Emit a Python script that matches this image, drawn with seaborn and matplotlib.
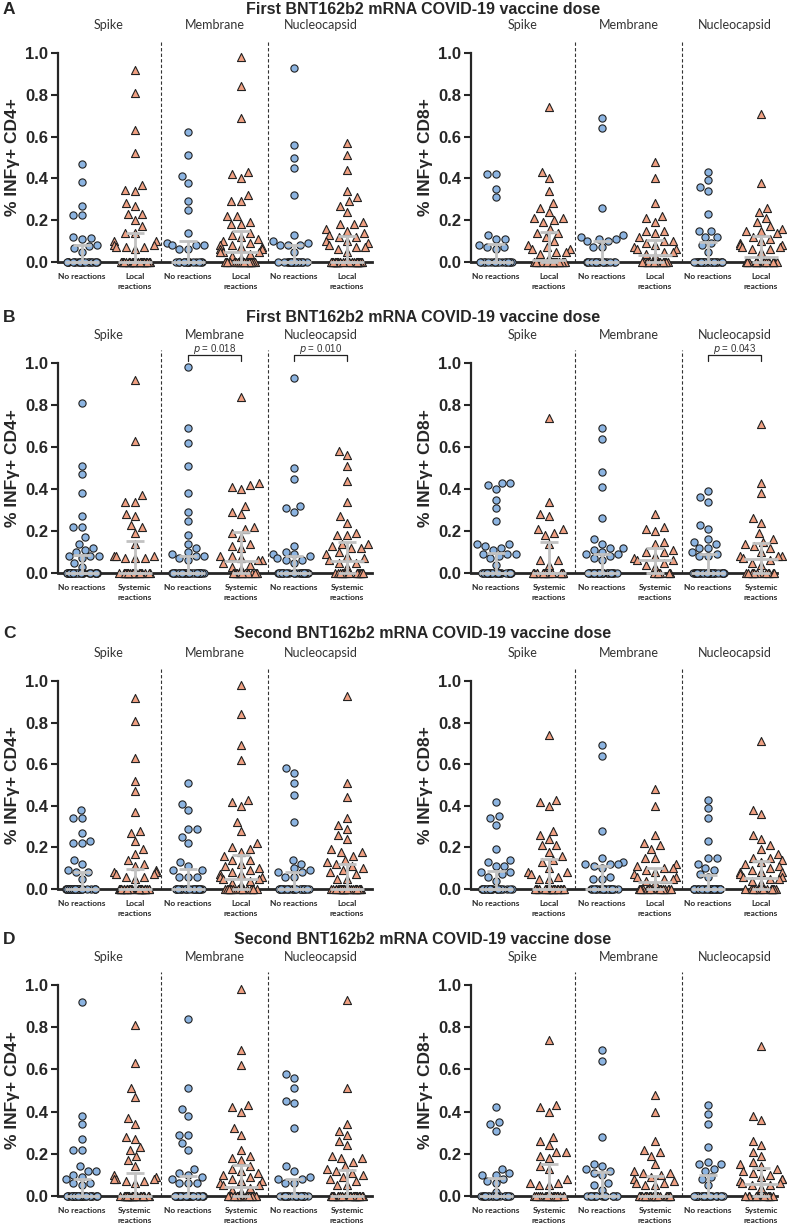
import numpy as np
import pandas as pd
import seaborn as sns
import matplotlib.pyplot as plt

W, H = 787, 1228

antigens = ["Spike", "Membrane", "Nucleocapsid"]
cats = ["Spike no", "Spike yes", "Membrane no", "Membrane yes", "Nucleocapsid no", "Nucleocapsid yes"]

# non-zero values read off each group (spike no/yes, membrane no/yes, nucleocapsid no/yes)
# the matching *_zeros list holds the number of donors sitting at 0.0
a_cd4 = [
    [0.47, 0.385, 0.27, 0.225, 0.225, 0.12, 0.115, 0.11, 0.08, 0.075, 0.065, 0.05],
    [0.92, 0.81, 0.63, 0.52, 0.37, 0.345, 0.34, 0.28, 0.27, 0.23, 0.23, 0.2, 0.17, 0.14, 0.14, 0.1, 0.1, 0.08, 0.08, 0.07, 0.07, 0.07, 0.06],
    [0.62, 0.51, 0.41, 0.38, 0.29, 0.25, 0.14, 0.09, 0.08, 0.08, 0.08, 0.06, 0.06],
    [0.98, 0.84, 0.69, 0.43, 0.42, 0.40, 0.32, 0.29, 0.29, 0.22, 0.22, 0.19, 0.18, 0.18, 0.14, 0.13, 0.12, 0.11, 0.1, 0.09,
     0.08, 0.08, 0.07, 0.07, 0.06, 0.06, 0.05, 0.05, 0.05, 0.04, 0.03, 0.02],
    [0.93, 0.56, 0.50, 0.45, 0.32, 0.13, 0.10, 0.09, 0.08, 0.08, 0.08, 0.05],
    [0.57, 0.51, 0.44, 0.34, 0.31, 0.29, 0.27, 0.24, 0.19, 0.18, 0.18, 0.16, 0.15, 0.14, 0.13, 0.12, 0.12, 0.1, 0.1, 0.09,
     0.08, 0.07, 0.07, 0.06, 0.05],
]
a_cd4_zeros = [21, 34, 15, 24, 20, 35]

a_cd8 = [
    [0.42, 0.42, 0.35, 0.31, 0.13, 0.11, 0.11, 0.08, 0.07, 0.07, 0.06],
    [0.74, 0.43, 0.40, 0.34, 0.28, 0.26, 0.24, 0.21, 0.21, 0.2, 0.19, 0.16, 0.14, 0.14, 0.12, 0.1, 0.08, 0.07, 0.06, 0.06,
     0.05, 0.05, 0.04, 0.02],
    [0.69, 0.64, 0.26, 0.13, 0.12, 0.11, 0.11, 0.1, 0.1, 0.07, 0.07],
    [0.48, 0.40, 0.28, 0.22, 0.21, 0.19, 0.15, 0.15, 0.14, 0.12, 0.1, 0.1, 0.09, 0.08, 0.07, 0.06, 0.06, 0.05, 0.05, 0.04, 0.03],
    [0.43, 0.39, 0.36, 0.34, 0.23, 0.15, 0.15, 0.12, 0.12, 0.09, 0.08, 0.05],
    [0.71, 0.38, 0.26, 0.24, 0.21, 0.19, 0.17, 0.16, 0.15, 0.15, 0.14, 0.12, 0.11, 0.1, 0.09, 0.08, 0.08, 0.07, 0.07, 0.06,
     0.06, 0.05],
]
a_cd8_zeros = [17, 24, 17, 19, 24, 22]

b_cd4 = [
    [0.81, 0.51, 0.47, 0.38, 0.27, 0.22, 0.22, 0.17, 0.14, 0.12, 0.11, 0.1, 0.08, 0.08, 0.08, 0.07, 0.05, 0.03],
    [0.92, 0.63, 0.37, 0.34, 0.34, 0.28, 0.27, 0.23, 0.22, 0.19, 0.14, 0.08, 0.08, 0.08, 0.07, 0.07, 0.07],
    [0.98, 0.69, 0.62, 0.51, 0.38, 0.29, 0.25, 0.18, 0.14, 0.12, 0.1, 0.09, 0.08, 0.08, 0.07, 0.06],
    [0.84, 0.43, 0.42, 0.41, 0.40, 0.32, 0.29, 0.28, 0.22, 0.21, 0.19, 0.17, 0.14, 0.13, 0.12, 0.08, 0.08, 0.07, 0.06, 0.06,
     0.05, 0.04, 0.03, 0.02],
    [0.93, 0.50, 0.45, 0.32, 0.31, 0.29, 0.13, 0.10, 0.09, 0.09, 0.08, 0.07, 0.06, 0.06, 0.05],
    [0.58, 0.56, 0.51, 0.44, 0.34, 0.27, 0.24, 0.19, 0.18, 0.18, 0.14, 0.14, 0.13, 0.12, 0.12, 0.1, 0.09, 0.08, 0.07, 0.06,
     0.05, 0.05, 0.03],
]
b_cd4_zeros = [30, 23, 32, 16, 25, 17]

b_cd8 = [
    [0.43, 0.43, 0.42, 0.40, 0.35, 0.31, 0.25, 0.14, 0.14, 0.13, 0.12, 0.11, 0.09, 0.09, 0.09, 0.08, 0.07, 0.04],
    [0.74, 0.34, 0.28, 0.27, 0.21, 0.21, 0.19, 0.18, 0.14, 0.06, 0.06, 0.04],
    [0.69, 0.64, 0.48, 0.41, 0.26, 0.16, 0.14, 0.12, 0.12, 0.11, 0.1, 0.09, 0.09, 0.08, 0.07, 0.06],
    [0.28, 0.22, 0.21, 0.2, 0.15, 0.14, 0.11, 0.1, 0.1, 0.08, 0.07, 0.06, 0.06, 0.05, 0.04, 0.03],
    [0.39, 0.36, 0.34, 0.23, 0.21, 0.16, 0.15, 0.14, 0.12, 0.12, 0.1, 0.09, 0.08, 0.08],
    [0.71, 0.43, 0.38, 0.26, 0.24, 0.19, 0.16, 0.15, 0.14, 0.13, 0.12, 0.1, 0.08, 0.08, 0.08, 0.07, 0.06, 0.05, 0.04],
]
b_cd8_zeros = [30, 20, 28, 8, 30, 13]

c_cd4 = [
    [0.38, 0.34, 0.34, 0.27, 0.23, 0.22, 0.22, 0.14, 0.12, 0.09, 0.08, 0.08, 0.05],
    [0.92, 0.81, 0.63, 0.52, 0.47, 0.37, 0.28, 0.27, 0.23, 0.19, 0.17, 0.14, 0.12, 0.11, 0.09, 0.08, 0.08, 0.07, 0.07, 0.06,
     0.06, 0.05],
    [0.51, 0.41, 0.38, 0.29, 0.29, 0.25, 0.22, 0.13, 0.11, 0.09, 0.09, 0.06, 0.06, 0.06],
    [0.98, 0.84, 0.69, 0.62, 0.43, 0.42, 0.40, 0.32, 0.28, 0.22, 0.2, 0.19, 0.18, 0.16, 0.14, 0.14, 0.12, 0.11, 0.1, 0.09,
     0.08, 0.07, 0.07, 0.06, 0.06, 0.05, 0.05, 0.04, 0.03, 0.02],
    [0.58, 0.56, 0.51, 0.45, 0.32, 0.14, 0.12, 0.1, 0.09, 0.08, 0.08, 0.06, 0.06],
    [0.93, 0.51, 0.44, 0.34, 0.31, 0.29, 0.26, 0.24, 0.19, 0.18, 0.18, 0.16, 0.14, 0.13, 0.12, 0.11, 0.1, 0.09, 0.08, 0.07,
     0.05, 0.05],
]
c_cd4_zeros = [27, 34, 22, 22, 23, 34]

c_cd8 = [
    [0.42, 0.35, 0.34, 0.31, 0.19, 0.14, 0.13, 0.11, 0.11, 0.08, 0.08, 0.07, 0.06, 0.04],
    [0.74, 0.43, 0.42, 0.40, 0.28, 0.26, 0.24, 0.21, 0.21, 0.18, 0.16, 0.14, 0.13, 0.1, 0.08, 0.08, 0.07, 0.06, 0.05, 0.05],
    [0.69, 0.64, 0.28, 0.15, 0.13, 0.12, 0.12, 0.12, 0.11, 0.1, 0.06, 0.05, 0.05],
    [0.48, 0.40, 0.26, 0.22, 0.21, 0.19, 0.15, 0.15, 0.12, 0.11, 0.1, 0.1, 0.09, 0.08, 0.07, 0.06, 0.06, 0.05, 0.05, 0.04, 0.03],
    [0.43, 0.39, 0.34, 0.23, 0.15, 0.15, 0.12, 0.1, 0.09, 0.07, 0.06],
    [0.71, 0.38, 0.36, 0.26, 0.24, 0.21, 0.19, 0.17, 0.15, 0.15, 0.14, 0.13, 0.12, 0.11, 0.1, 0.09, 0.08, 0.08, 0.08, 0.07,
     0.06, 0.06, 0.05, 0.05, 0.04, 0.03],
]
c_cd8_zeros = [22, 24, 19, 19, 27, 18]

d_cd4 = [
    [0.92, 0.38, 0.34, 0.27, 0.22, 0.22, 0.14, 0.12, 0.12, 0.1, 0.09, 0.08, 0.06, 0.06, 0.05],
    [0.81, 0.63, 0.51, 0.47, 0.37, 0.34, 0.28, 0.27, 0.23, 0.22, 0.19, 0.17, 0.14, 0.1, 0.09, 0.08, 0.08, 0.08, 0.07, 0.07, 0.06],
    [0.84, 0.51, 0.41, 0.38, 0.29, 0.29, 0.25, 0.22, 0.13, 0.11, 0.1, 0.09, 0.08, 0.06, 0.06, 0.06],
    [0.98, 0.69, 0.62, 0.43, 0.42, 0.40, 0.32, 0.29, 0.22, 0.19, 0.18, 0.17, 0.14, 0.13, 0.12, 0.11, 0.1, 0.09, 0.08, 0.07,
     0.07, 0.06, 0.05, 0.05, 0.04, 0.03, 0.02],
    [0.58, 0.56, 0.51, 0.45, 0.44, 0.32, 0.14, 0.12, 0.09, 0.08, 0.08, 0.06, 0.06],
    [0.93, 0.51, 0.34, 0.31, 0.29, 0.26, 0.24, 0.19, 0.18, 0.18, 0.16, 0.14, 0.13, 0.12, 0.11, 0.1, 0.09, 0.08, 0.07, 0.05, 0.05],
]
d_cd4_zeros = [29, 31, 28, 21, 23, 31]

d_cd8 = [
    [0.42, 0.35, 0.34, 0.31, 0.13, 0.11, 0.1, 0.1, 0.08, 0.07, 0.06, 0.02],
    [0.74, 0.43, 0.42, 0.40, 0.28, 0.26, 0.24, 0.21, 0.21, 0.19, 0.18, 0.14, 0.13, 0.08, 0.06, 0.06, 0.05, 0.05],
    [0.69, 0.64, 0.28, 0.15, 0.14, 0.13, 0.12, 0.11, 0.1, 0.06, 0.05, 0.03],
    [0.48, 0.40, 0.26, 0.22, 0.21, 0.19, 0.15, 0.12, 0.11, 0.11, 0.1, 0.09, 0.08, 0.07, 0.06, 0.06, 0.05, 0.05],
    [0.43, 0.39, 0.34, 0.23, 0.16, 0.15, 0.15, 0.13, 0.12, 0.09, 0.08, 0.05],
    [0.71, 0.38, 0.36, 0.26, 0.24, 0.21, 0.19, 0.16, 0.15, 0.14, 0.13, 0.12, 0.11, 0.1, 0.09, 0.08, 0.08, 0.07, 0.06, 0.06,
     0.05, 0.05, 0.04],
]
d_cd8_zeros = [20, 26, 16, 26, 24, 17]

# p values shown above membrane / nucleocapsid pairs (row B only)
b_cd4_p = [None, "0.018", "0.010"]
b_cd8_p = [None, None, "0.043"]
no_p = [None, None, None]

letters = ["A", "B", "C", "D"]
titles = ["First BNT162b2 mRNA COVID-19 vaccine dose", "First BNT162b2 mRNA COVID-19 vaccine dose",
          "Second BNT162b2 mRNA COVID-19 vaccine dose", "Second BNT162b2 mRNA COVID-19 vaccine dose"]
react_labels = ["Local\nreactions", "Systemic\nreactions", "Local\nreactions", "Systemic\nreactions"]
ylabels = ["% INFγ+ CD4+", "% INFγ+ CD8+"]
yticks = [0.0, 0.2, 0.4, 0.6, 0.8, 1.0]

panels = [[(a_cd4, a_cd4_zeros, no_p), (a_cd8, a_cd8_zeros, no_p)],
          [(b_cd4, b_cd4_zeros, b_cd4_p), (b_cd8, b_cd8_zeros, b_cd8_p)],
          [(c_cd4, c_cd4_zeros, no_p), (c_cd8, c_cd8_zeros, no_p)],
          [(d_cd4, d_cd4_zeros, no_p), (d_cd8, d_cd8_zeros, no_p)]]

# pixel layout
row_top = [53, 363, 681, 985]
row_bot = [262, 573, 889, 1196]
title_y = [10, 318, 633, 940]
col_left = [58, 471]
col_right = [372, 777]
xlims = [(-0.45, 5.47), (-0.47, 5.3)]

blue = "#8cb4e1"
salmon = "#f0a082"
edge = "#222222"
gray = "#c2c2c2"

sns.set_style("ticks")
plt.rcParams["font.family"] = ["Liberation Sans", "DejaVu Sans"]


def draw_panel(ax, values, zeros, ylabel, react, pv, xlim):
    recs = []
    for i, (vals, nz) in enumerate(zip(values, zeros)):
        for v in list(vals) + [0.0] * nz:
            recs.append({"cat": cats[i], "value": v, "react": i % 2})
    df = pd.DataFrame(recs)

    styles = [("o", 5.2, blue), ("^", 5.8, salmon)]
    for g, (mk, sz, col) in enumerate(styles):
        sub = df[df.react == g]
        # non-zero donors as a beeswarm, the zero row spread by jitter
        sns.swarmplot(data=sub[sub.value > 0], x="cat", y="value", order=cats, marker=mk, size=sz,
                      color=col, edgecolor=edge, linewidth=0.8, ax=ax, clip_on=False, zorder=3,
                      warn_thresh=1)
        sns.stripplot(data=sub[sub.value == 0], x="cat", y="value", order=cats, jitter=0.3,
                      marker=mk, size=sz, color=col, edgecolor=edge, linewidth=0.8,
                      ax=ax, clip_on=False, zorder=3)

    # median + interquartile range
    for i in range(6):
        v = df.loc[df.cat == cats[i], "value"].to_numpy()
        q1, med, q3 = np.percentile(v, [25, 50, 75])
        ax.vlines(i, q1, q3, color=gray, lw=2, zorder=4, clip_on=False)
        ax.hlines([q1, q3], i - 0.17, i + 0.17, color=gray, lw=2, zorder=4, clip_on=False)
        ax.hlines(med, i - 0.32, i + 0.32, color=gray, lw=2, zorder=4, clip_on=False)

    # antigen separators and headers
    for xs in (1.5, 3.5):
        ax.plot([xs, xs], [0, 1.062], ls=(0, (3, 2)), color="#333333", lw=0.8, clip_on=False)
    for k, name in enumerate(antigens):
        ax.text(2 * k + 0.5, 1.135, name, ha="center", va="center", fontsize=9,
                family="Lato", color="#333333")
        if pv[k] is not None:
            x0, x1 = 2 * k, 2 * k + 1
            ax.plot([x0, x0, x1, x1], [1.008, 1.04, 1.04, 1.008], color="#222222", lw=0.9, clip_on=False)
            ax.text(k * 2 + 0.5, 1.066, f"$p$ = {pv[k]}", ha="center", va="center", fontsize=7,
                    color="#333333")

    ax.set_ylim(0, 1.0)
    ax.set_xlim(xlim)
    ax.set_yticks(yticks)
    ax.set_yticklabels([f"{t:.1f}" for t in yticks], fontsize=12, fontweight="bold")
    ax.tick_params(axis="y", width=1.5, length=5, pad=2)
    ax.set_ylabel(ylabel, fontsize=12.5, fontweight="bold", labelpad=4)
    ax.set_xlabel("")
    ax.set_xticks(range(6))
    ax.set_xticklabels(["No reactions", react] * 3, fontsize=6, fontweight="bold",
                       family="Lato", linespacing=1.5)
    ax.tick_params(axis="x", length=0, pad=8)
    sns.despine(ax=ax)
    ax.spines["left"].set_linewidth(1.6)
    ax.spines["bottom"].set_linewidth(2)


np.random.seed(7)
fig = plt.figure(figsize=(W / 100, H / 100), dpi=100)

for r in range(4):
    fig.text(9 / W, 1 - title_y[r] / H, letters[r], fontsize=12.5, fontweight="bold", ha="center", va="center")
    fig.text(423 / W, 1 - title_y[r] / H, titles[r], fontsize=11.5, fontweight="bold", ha="center", va="center")
    for c in range(2):
        ax = fig.add_axes([col_left[c] / W, 1 - row_bot[r] / H,
                           (col_right[c] - col_left[c]) / W, (row_bot[r] - row_top[r]) / H])
        vals, zeros, pv = panels[r][c]
        draw_panel(ax, vals, zeros, ylabels[c], react_labels[r], pv, xlims[c])

fig.savefig("out.png", dpi=100)
